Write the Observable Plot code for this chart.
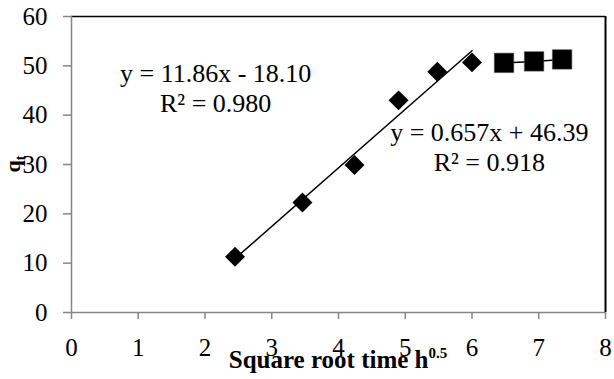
<!DOCTYPE html>
<html><head><meta charset="utf-8">
<script src="https://cdn.jsdelivr.net/npm/d3@7"></script>
<script src="https://cdn.jsdelivr.net/npm/@observablehq/plot@0.6"></script>
<style>
body{margin:0;background:#fff}
#chart svg, #chart svg text, #chart svg tspan { font-family: "Liberation Serif", "Times New Roman", "DejaVu Serif", serif !important; }
</style>
</head><body><div id="chart"></div>
<script>
// Tick values
const xTicks = [0, 1, 2, 3, 4, 5, 6, 7, 8];
const yTicks = [0, 10, 20, 30, 40, 50, 60];
// Stage 1 (diamonds): square root time vs qt
const stage1X = [2.45, 3.46, 4.24, 4.90, 5.48, 6.00];
const stage1Y = [11.3, 22.3, 29.9, 43.0, 48.8, 50.7];
// Stage 2 (squares)
const stage2X = [6.48, 6.93, 7.35];
const stage2Y = [50.6, 50.9, 51.3];
// Trendline equation labels (positions in data units)
const eqLabels = ["y = 11.86x - 18.10", "R² = 0.980", "y = 0.657x + 46.39", "R² = 0.918"];
const eqX = [2.16, 2.16, 6.26, 6.26];
const eqY = [48.4, 42.3, 36.4, 30.4];
const xTitle = "Square root time h";
const xTitleSup = "0.5";
const yTitle = "q";
const yTitleSub = "t";

const pts1 = stage1X.map((x, i) => ({x, y: stage1Y[i]}));
const pts2 = stage2X.map((x, i) => ({x, y: stage2Y[i]}));
const eqs = eqLabels.map((text, i) => ({text, x: eqX[i], y: eqY[i]}));

const serif = "Liberation Serif";
const grey = "#868686";

const plot = Plot.plot({
  width: 614, height: 379,
  marginLeft: 71, marginRight: 9, marginTop: 16, marginBottom: 67,
  style: {fontFamily: serif, fontSize: "25px", color: "#000", background: "#fff", overflow: "visible"},
  x: {domain: [0, 8]},
  y: {domain: [0, 60]},
  marks: [
    Plot.ruleY([60], {stroke: "#000", strokeWidth: 1.5}),
    Plot.ruleX([8], {stroke: "#000", strokeWidth: 2}),
    Plot.ruleX([0], {stroke: grey, strokeWidth: 1.5}),
    Plot.ruleY([0], {stroke: grey, strokeWidth: 1.5}),
    Plot.axisX({ticks: xTicks, tickSize: 7, tickPadding: 19, stroke: grey, strokeWidth: 1.5, fill: "#000", label: null, tickFormat: d => String(d)}),
    Plot.axisY({ticks: yTicks, tickSize: 8, tickPadding: 16, stroke: grey, strokeWidth: 1.5, fill: "#000", label: null, tickFormat: d => String(d)}),
    Plot.linearRegressionY(pts1, {x: "x", y: "y", stroke: "#000", strokeWidth: 1.5, ci: 0}),
    Plot.line(pts2, {x: "x", y: "y", stroke: "#000", strokeWidth: 1.5}),
    Plot.dot(pts1, {x: "x", y: "y", symbol: "diamond2", r: 9, fill: "#000", stroke: "none"}),
    Plot.dot(pts2, {x: "x", y: "y", symbol: "square", r: 11, fill: "#000", stroke: "#555", strokeWidth: 0.5}),
    Plot.text(eqs, {x: "x", y: "y", text: "text", fontSize: 26, fill: "#000"})
  ]
});

const svg = d3.select(plot);
const sx = plot.scale("x"), sy = plot.scale("y");
const xt = svg.append("text")
  .attr("x", sx.apply(4)).attr("y", sy.apply(0) + 56)
  .attr("text-anchor", "middle").attr("font-weight", "bold")
  .attr("font-size", 25).attr("fill", "#000");
xt.append("tspan").text(xTitle);
xt.append("tspan").attr("font-size", 15).attr("dy", -10).text(xTitleSup);

const yt = svg.append("text")
  .attr("transform", `translate(20,${sy.apply(30)}) rotate(-90)`)
  .attr("text-anchor", "middle").attr("font-weight", "bold")
  .attr("font-size", 22).attr("fill", "#000");
yt.append("tspan").text(yTitle);
yt.append("tspan").attr("font-size", 14).attr("dy", 5).text(yTitleSub);

document.getElementById("chart").append(plot);
</script>
</body></html>
